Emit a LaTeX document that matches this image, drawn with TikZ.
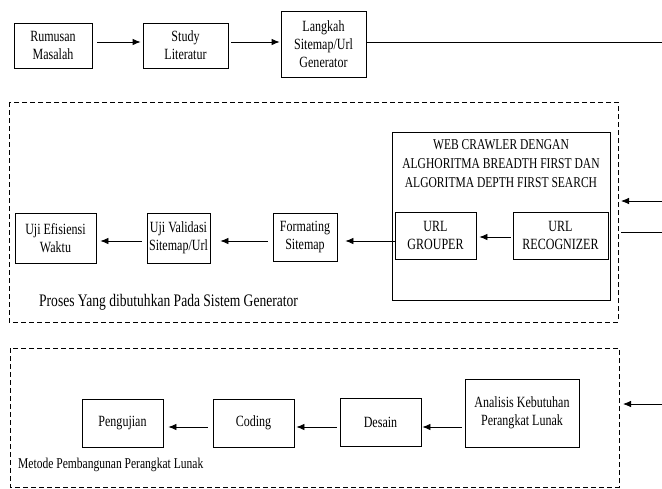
\documentclass[tikz,border=0pt]{standalone}
\usepackage{fontspec}
\setmainfont{Liberation Serif}[FakeStretch=0.77]
\usetikzlibrary{arrows.meta}
\tikzset{
	kotak/.style={draw, line width=0.8pt, align=center, inner sep=0pt, font=\fontsize{15.6}{18}\selectfont},
	panah/.style={-{Latex[length=8pt,width=6.5pt]}, line width=0.8pt},
	garis/.style={line width=0.8pt},
	batas/.style={line width=0.8pt, dash pattern=on 5pt off 3pt},
	keterangan/.style={anchor=west, inner sep=0pt},
}

\begin{document}
\begin{tikzpicture}[x=1pt, y=-1pt]
	\useasboundingbox (0,0) rectangle (662,488);

	\node[kotak, minimum width=78pt, minimum height=45pt] (rumusan) at (53,45.5) {Rumusan\\Masalah};
	\node[kotak, minimum width=85pt, minimum height=45pt] (study) at (185.5,45.5) {Study\\Literatur};
	\node[kotak, minimum width=85pt, minimum height=66pt] (langkah) at (323.5,44) {Langkah\\Sitemap/Url\\Generator};
	\coordinate (ujung1) at (662,42);

	\draw[panah, shorten <=5pt, shorten >=2pt] (rumusan.east |- ujung1) -- (study.west |- ujung1);
	\draw[panah, shorten <=3pt, shorten >=1pt] (study.east |- ujung1) -- (langkah.west |- ujung1);
	\draw[garis] (langkah.east |- ujung1) -- (ujung1);

	\draw[batas] (9,102) rectangle (618,322);

	\node[kotak, minimum width=218pt, minimum height=168pt] (crawler) at (501,216) {};
	\node[font=\fontsize{15}{19}\selectfont, align=center, inner sep=0pt] (judul) at (501,163.5) {WEB CRAWLER DENGAN\\ALGHORITMA BREADTH FIRST DAN\\ALGORITMA DEPTH FIRST SEARCH};
	\node[kotak, minimum width=81pt, minimum height=47pt] (grouper) at (435.5,235.5) {URL\\GROUPER};
	\node[kotak, minimum width=95pt, minimum height=47pt] (recognizer) at (560.5,235.5) {URL\\RECOGNIZER};

	\node[kotak, minimum width=81pt, minimum height=50pt] (efisiensi) at (55.5,238) {Uji Efisiensi\\Waktu};
	\node[kotak, minimum width=63pt, minimum height=50pt] (validasi) at (178.5,238) {Uji Validasi\\Sitemap/Url};
	\node[kotak, minimum width=64pt, minimum height=48pt] (formating) at (305,237) {Formating\\Sitemap};

	\coordinate (baris2) at (0,241);
	\coordinate (masuk1) at (662,201);
	\coordinate (masuk1b) at (621,201);
	\coordinate (keluar1) at (621,232);
	\coordinate (keluar1b) at (662,232);

	\draw[panah, shorten <=2pt, shorten >=3pt] ([yshift=-1.5pt]recognizer.west) -- ([yshift=-1.5pt]grouper.east);
	\draw[panah, shorten <=-4pt, shorten >=8pt] (crawler.west |- baris2) -- (formating.east |- baris2);
	\draw[panah, shorten <=5pt, shorten >=10pt] (formating.west |- baris2) -- (validasi.east |- baris2);
	\draw[panah, shorten <=5pt, shorten >=4pt] (validasi.west |- baris2) -- (efisiensi.east |- baris2);
	\draw[panah] (masuk1) -- (masuk1b);
	\draw[garis] (keluar1) -- (keluar1b);

	\node[keterangan, font=\fontsize{17.6}{18}\selectfont] (proses) at (39,302) {Proses Yang dibutuhkan Pada Sistem Generator};

	\draw[batas] (10,348) rectangle (619,487);

	\node[kotak, minimum width=81pt, minimum height=48pt] (pengujian) at (122.5,423) {Pengujian};
	\node[kotak, minimum width=81pt, minimum height=48pt] (coding) at (253.5,423) {Coding};
	\node[kotak, minimum width=81pt, minimum height=48pt] (desain) at (380.5,422) {Desain};
	\node[kotak, minimum width=114pt, minimum height=68pt] (analisis) at (522,413) {Analisis Kebutuhan\\Perangkat Lunak};
	\coordinate (baris3) at (0,427);
	\coordinate (masuk2) at (662,404);
	\coordinate (masuk2b) at (623,404);

	\draw[panah, shorten <=5pt, shorten >=5pt] (coding.west |- baris3) -- (pengujian.east |- baris3);
	\draw[panah, shorten <=3pt, shorten >=2pt] (desain.west |- baris3) -- (coding.east |- baris3);
	\draw[panah, shorten <=3pt, shorten >=1pt] (analisis.west |- baris3) -- (desain.east |- baris3);
	\draw[panah] (masuk2) -- (masuk2b);

	\node[keterangan, font=\fontsize{15}{15}\selectfont] (metode) at (18,465) {Metode Pembangunan Perangkat Lunak};
\end{tikzpicture}
\end{document}
